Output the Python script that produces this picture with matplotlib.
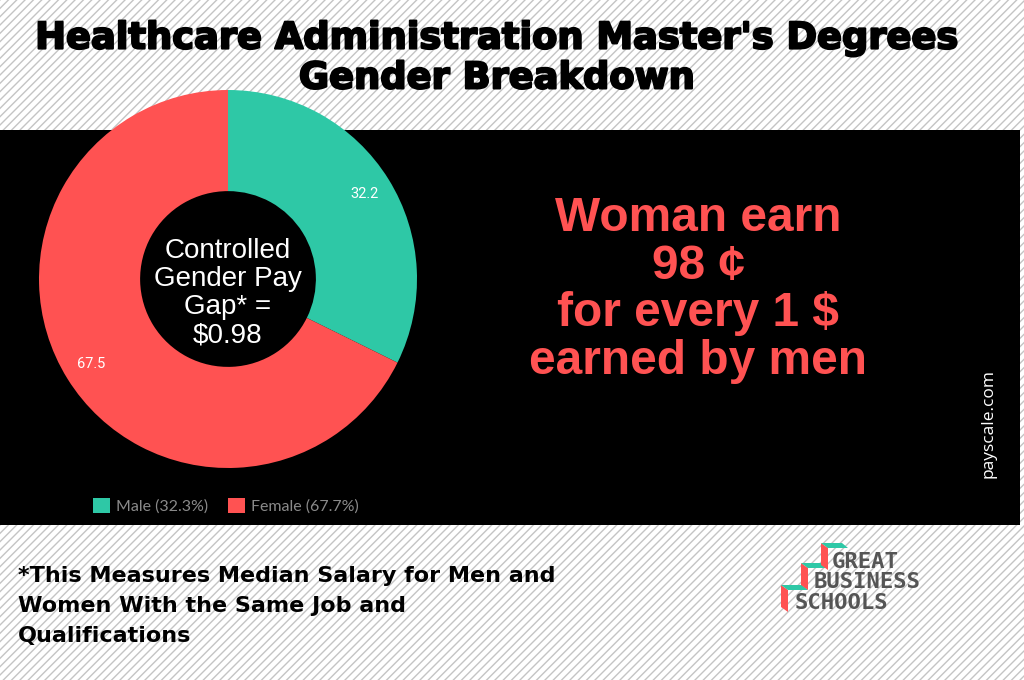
import matplotlib.pyplot as plt
import matplotlib.patheffects as pe
from matplotlib.patches import Rectangle, Polygon

# data
labels = ["Male", "Female"]
values = [32.2, 67.5]
legend_labels = ["Male (32.3%)", "Female (67.7%)"]
colors = ["#2ec8a6", "#ff5252"]

title = "Healthcare Administration Master's Degrees\nGender Breakdown"
center_text = "Controlled\nGender Pay\nGap* =\n$0.98"
big_text = "Woman earn\n98 \u00a2\nfor every 1 $\nearned by men"
note = "*This Measures Median Salary for Men and\nWomen With the Same Job and\nQualifications"
logo_words = ["GREAT", "BUSINESS", "SCHOOLS"]

W, H = 1024, 680
fig = plt.figure(figsize=(W / 100, H / 100), dpi=100)
plt.rcParams["hatch.color"] = "#c4c4c4"
plt.rcParams["hatch.linewidth"] = 1.0

# background layer in pixel coords (y down)
bg = fig.add_axes([0, 0, 1, 1])
bg.set_xlim(0, W)
bg.set_ylim(H, 0)
bg.axis("off")
bg.add_patch(Rectangle((0, 0), W, H, facecolor="white", edgecolor="#c4c4c4",
                       hatch="////", linewidth=0))
bg.add_patch(Rectangle((0, 130), 1020, 395, facecolor="black", linewidth=0))

bg.text(497, 58, title, ha="center", va="center", fontsize=26.5,
        fontweight="heavy", family="DejaVu Sans", linespacing=1.1,
        path_effects=[pe.withStroke(linewidth=1.5, foreground="black")])
bg.text(698, 290, big_text, ha="center", va="center", fontsize=34.5,
        fontweight="bold", color="#ff5252", family="Liberation Sans",
        linespacing=1.08)
bg.text(18, 606, note, ha="left", va="center", fontsize=16,
        fontweight="bold", family="DejaVu Sans", linespacing=1.62)
bg.text(988, 424, "payscale.com", rotation=90, ha="center", va="center",
        fontsize=12.5, color="white", family="Open Sans")

# logo
steps = [(781, 585), (801, 563), (821, 543)]
for sx, sy in steps:
    bg.add_patch(Polygon([(sx, sy), (sx + 7, sy + 5), (sx + 7, sy + 27), (sx, sy + 22)],
                         closed=True, facecolor="#ff5252", linewidth=0))
    bg.add_patch(Polygon([(sx, sy), (sx + 21, sy), (sx + 27, sy + 5), (sx + 7, sy + 5)],
                         closed=True, facecolor="#2ec8a6", linewidth=0))
for i, word in enumerate(logo_words):
    bg.text(832 - i * 18.5, 562 + i * 20.5, word, ha="left", va="center",
            fontsize=16, fontweight="bold", color="#555555",
            family="DejaVu Sans Mono")

# donut
cx, cy, r = 228, 279, 189
ax = fig.add_axes([(cx - r) / W, (H - cy - r) / H, 2 * r / W, 2 * r / H])
wedges, texts, autotexts = ax.pie(
    values, colors=colors, startangle=90, counterclock=False,
    radius=1, wedgeprops=dict(width=0.535, linewidth=0),
    autopct=lambda p: "%.1f" % (p * sum(values) / 100), pctdistance=0.85,
    textprops=dict(color="white", fontsize=10.5, family="Roboto"))
ax.set_xlim(-1, 1)
ax.set_ylim(-1, 1)
ax.set_aspect("equal")
ax.axis("off")
ax.text(0, -0.075, center_text, ha="center", va="center", fontsize=20,
        color="white", family="Liberation Sans", linespacing=1.1)

leg = fig.legend(wedges, legend_labels, loc="center", ncol=2,
                 bbox_to_anchor=(226 / W, 1 - 506 / H), frameon=False,
                 handlelength=1.05, handleheight=1.05, handletextpad=0.4,
                 columnspacing=1.2, prop=dict(family="Lato", size=11.5))
for t in leg.get_texts():
    t.set_color("#8a8a8a")

fig.savefig("out.png", dpi=100)
